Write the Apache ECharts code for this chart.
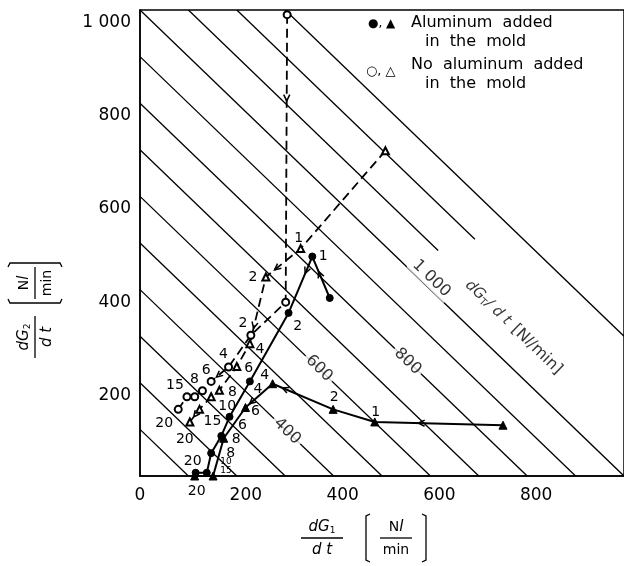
<!DOCTYPE html>
<html>
<head>
<meta charset="utf-8">
<script src="https://cdn.jsdelivr.net/npm/echarts@6/dist/echarts.min.js"></script>
<style>
html, body { margin: 0; padding: 0; background: #fff; }
#chart { width: 624px; height: 566px; }
</style>
</head>
<body>
<div id="chart"></div>
<script>
// values, dG1/dt (x) and dG2/dt (y) in Nl/min
// aluminum added in the mold - filled circles
const alCircX = [392, 356, 307, 227, 185, 168, 147, 138, 115];
const alCircY = [382, 471, 350, 203, 127, 86, 49, 7, 7];
const alCircT = ['', '1', '2', '4', '6', '8', '', '', '20'];
// aluminum added in the mold - filled triangles
const alTriX = [750, 485, 399, 274, 218, 173, 151, 113];
const alTriY = [109, 116, 143, 198, 147, 81, 0, 0];
const alTriT = ['', '1', '2', '4', '6', '8', '10\n15', '20'];
// no aluminum added - open circles
const noCircX = [304, 301, 229, 183, 147, 129, 113, 97, 79];
const noCircY = [990, 373, 302, 234, 203, 183, 170, 170, 143];
const noCircT = ['', '', '2', '4', '6', '8', '', '15', '20'];
// no aluminum added - open triangles
const noTriX = [507, 332, 260, 227, 200, 164, 147, 123, 103];
const noTriY = [698, 488, 427, 284, 235, 184, 170, 143, 116];
const noTriT = ['', '1', '2', '4', '6', '8', '10', '15', '20'];

// lines of constant dGT/dt = dG1/dt + dG2/dt
const totals = [100, 200, 300, 400, 500, 600, 700, 800, 900, 1000, 1100, 1200, 1300];
const totalLabels = ['400', '600', '800', '1 000'];

const xTicks = [0, 200, 400, 600, 800];
const yTicks = [200, 400, 600, 800, 1000];

// ---- layout / style bits ----
const FONT = 'DejaVu Sans';
const totalLabelAt = [[304, 96], [370, 231], [553, 246], [602, 424]];
const titleAt = [772, 319];
// gaps in the 1100 / 1200 lines around the dGT/dt text (x range left blank)
const lineGaps = { 1100: [616, 1000], 1200: [692, 1000] };

const offAlCirc = [null, [11, 0], [9, 13], [8, 8], [13, 9], [15, 3], null, null, [-3, -11]];
const offAlTri = [null, [1, -10], [1, -12], [-8, -8], [10, 4], [7, 15], [13, -10], [2, 15]];
const offNoCirc = [null, null, [-8, -12], [-5, -13], [-5, -11], [-8, -11], null, [-12, -11], [-14, 14]];
const offNoTri = [null, [-2, -10], [-13, 0], [10, 6], [12, 2], [13, 2], [16, 10], [13, 12], [-5, 17]];

// arrowheads: [segment index, fraction along segment]
const arrAlCirc = [[0, 0.64], [1, 0.3]];
const arrAlTri = [[0, 0.66], [2, 0.84], [3, 0.85]];
const arrNoCirc = [[0, 0.3], [3, 0.7]];
const arrNoTri = [[1, 0.75], [2, 0.77], [7, 0.6]];

function contourSegs() {
    const out = [];
    totals.forEach(c => {
        const a = c <= 1000 ? [0, c] : [c - 1000, 1000];
        const b = c <= 1000 ? [c, 0] : [1000, c - 1000];
        const g = lineGaps[c];
        if (g) {
            out.push({ coords: [a, [g[0], c - g[0]]] });
            if (g[1] < b[0]) out.push({ coords: [[g[1], c - g[1]], b] });
        } else {
            out.push({ coords: [a, b] });
        }
    });
    return out;
}

function points(xs, ys, ts, offs) {
    return xs.map((x, i) => {
        const item = { value: [x, ys[i]] };
        if (ts[i]) {
            item.label = { show: true, formatter: ts[i], offset: offs[i] || [0, 0] };
            if (ts[i].indexOf('\n') >= 0) {
                item.label.fontSize = 9;
                item.label.lineHeight = 9;
            }
        }
        return item;
    });
}

function arrows(xs, ys, marks) {
    return marks.map(([i, t]) => [xs[i], ys[i], xs[i + 1], ys[i + 1], t]);
}

function dataSeries(name, xs, ys, ts, offs, symbol, size, dashed) {
    return {
        name: name,
        type: 'line',
        z: 5,
        data: points(xs, ys, ts, offs),
        symbol: symbol,
        symbolSize: size,
        showAllSymbol: true,
        clip: false,
        lineStyle: { color: '#000', width: dashed ? 1.8 : 2, type: dashed ? [9, 5] : 'solid' },
        itemStyle: { color: '#000', borderColor: '#000', borderWidth: dashed ? 1.3 : 1 },
        label: { show: false, position: 'inside', color: '#000', fontSize: 14, fontFamily: FONT },
        emphasis: { disabled: true }
    };
}

// fraction + bracketed unit, used for both axis titles
function axisTitle(x, y, rot, gap, sub, bw, bh) {
    const t = (txt, cx, cy) => ({
        type: 'text', x: cx, y: cy,
        style: {
            text: txt, align: 'center', verticalAlign: 'middle', fill: '#000',
            rich: {
                i: { fontSize: 15, fontStyle: 'italic', fontFamily: FONT },
                s: { fontSize: 9, fontFamily: FONT, padding: [8, 0, 0, 0] },
                r: { fontSize: 14, fontFamily: FONT }
            }
        }
    });
    const ln = (pts, w) => ({ type: 'polyline', shape: { points: pts }, style: { stroke: '#000', lineWidth: w || 1.3, fill: null } });
    return {
        type: 'group', x: x, y: y, rotation: rot,
        children: [
            t('{i|dG}{s|' + sub + '}', 0, -11),
            ln([[-21, 0], [21, 0]]),
            t('{i|d t}', 0, 12),
            ln([[gap - bw + 4, -bh], [gap - bw, -bh + 2], [gap - bw, bh - 2], [gap - bw + 4, bh]]),
            ln([[gap + bw - 4, -bh], [gap + bw, -bh + 2], [gap + bw, bh - 2], [gap + bw - 4, bh]]),
            t('{r|N}{i|l}', gap, -11),
            ln([[gap - 16, 0], [gap + 16, 0]]),
            t('{r|min}', gap, 12)
        ]
    };
}

function legendText(txt, x, y, size) {
    return {
        type: 'text', x: x, y: y,
        style: { text: txt, fill: '#000', fontSize: size || 16, fontFamily: FONT, align: 'left', verticalAlign: 'middle' }
    };
}

const chart = echarts.init(document.getElementById('chart'));

const option = {
    animation: false,
    backgroundColor: '#fff',
    grid: { left: 140, top: 10, right: -3, bottom: 90, show: true, borderColor: '#000', borderWidth: 1.5 },
    xAxis: {
        type: 'value', min: 0, max: 1000, interval: 200,
        axisLine: { show: true, lineStyle: { color: '#000', width: 1.5 } },
        axisTick: { show: false },
        splitLine: { show: false },
        axisLabel: {
            showMaxLabel: false, margin: 11, color: '#000',
            formatter: v => xTicks.indexOf(v) < 0 ? '' : (v === 0 ? '{z|0}' : '{n|' + v + '}'),
            rich: {
                z: { fontSize: 17, fontFamily: FONT, color: '#000' },
                n: { fontSize: 17, fontFamily: FONT, color: '#000', padding: [0, 0, 0, 18] }
            }
        }
    },
    yAxis: {
        type: 'value', min: 0, max: 1000, interval: 200,
        axisLine: { show: true, lineStyle: { color: '#000', width: 1.5 } },
        axisTick: { show: false },
        splitLine: { show: false },
        axisLabel: {
            showMinLabel: false, margin: 9, color: '#000',
            formatter: v => yTicks.indexOf(v) < 0 ? '' : '{n|' + (v === 1000 ? '1 000' : v) + '}',
            rich: {
                n: { fontSize: 17, fontFamily: FONT, color: '#000', padding: [25, 0, 0, 0] }
            }
        }
    },
    series: [
        {
            type: 'lines', coordinateSystem: 'cartesian2d', z: 1, silent: true,
            data: contourSegs(),
            lineStyle: { color: '#000', width: 1.3, opacity: 1 }
        },
        {
            type: 'scatter', z: 3, symbolSize: 0, silent: true,
            data: totalLabels.map((t, i) => ({ value: totalLabelAt[i], name: t })),
            label: {
                show: true, position: 'inside', rotate: -44, formatter: p => p.name,
                color: '#000', fontSize: 16, fontFamily: FONT, backgroundColor: '#fff', padding: [1, 3]
            }
        },
        {
            type: 'scatter', z: 3, symbolSize: 0, silent: true,
            data: [{ value: titleAt, name: 'dGT/dt' }],
            label: {
                show: true, position: 'inside', rotate: -44, color: '#000', backgroundColor: '#fff', padding: [2, 6],
                formatter: '{i|dG}{s|T}{i|/ d t}  {r|[N}{i|l}{r|/min]}',
                rich: {
                    i: { fontSize: 15, fontStyle: 'italic', fontFamily: FONT },
                    s: { fontSize: 10, fontFamily: FONT, padding: [7, 0, 0, 0] },
                    r: { fontSize: 16, fontFamily: FONT }
                }
            }
        },
        dataSeries('alCirc', alCircX, alCircY, alCircT, offAlCirc, 'circle', 7, false),
        dataSeries('alTri', alTriX, alTriY, alTriT, offAlTri, 'triangle', 8, false),
        dataSeries('noCirc', noCircX, noCircY, noCircT, offNoCirc, 'emptyCircle', 7, true),
        dataSeries('noTri', noTriX, noTriY, noTriT, offNoTri, 'emptyTriangle', 7, true),
        {
            type: 'custom', z: 6, silent: true,
            encode: { x: [0, 2], y: [1, 3] },
            data: [].concat(
                arrows(alCircX, alCircY, arrAlCirc),
                arrows(alTriX, alTriY, arrAlTri),
                arrows(noCircX, noCircY, arrNoCirc),
                arrows(noTriX, noTriY, arrNoTri)
            ),
            renderItem: function (params, api) {
                const a = api.coord([api.value(0), api.value(1)]);
                const b = api.coord([api.value(2), api.value(3)]);
                const t = api.value(4);
                const px = a[0] + (b[0] - a[0]) * t;
                const py = a[1] + (b[1] - a[1]) * t;
                const ang = Math.atan2(b[1] - a[1], b[0] - a[0]);
                const L = 7, w = 0.45;
                return {
                    type: 'polyline',
                    shape: { points: [
                        [px - L * Math.cos(ang - w), py - L * Math.sin(ang - w)],
                        [px, py],
                        [px - L * Math.cos(ang + w), py - L * Math.sin(ang + w)]
                    ] },
                    style: { stroke: '#000', lineWidth: 1.5, fill: null }
                };
            }
        }
    ],
    graphic: [
        legendText('\u25CF, \u25B2', 368, 24, 12),
        legendText('Aluminum  added', 411, 23),
        legendText('in  the  mold', 425, 42),
        legendText('\u25CB, \u25B3', 366, 72, 13),
        legendText('No  aluminum  added', 411, 65),
        legendText('in  the  mold', 425, 84),
        axisTitle(322, 538, 0, 74, '1', 30, 24),
        axisTitle(35, 337, Math.PI / 2, 54, '2', 20, 27)
    ]
};

chart.setOption(option);
</script>
</body>
</html>
